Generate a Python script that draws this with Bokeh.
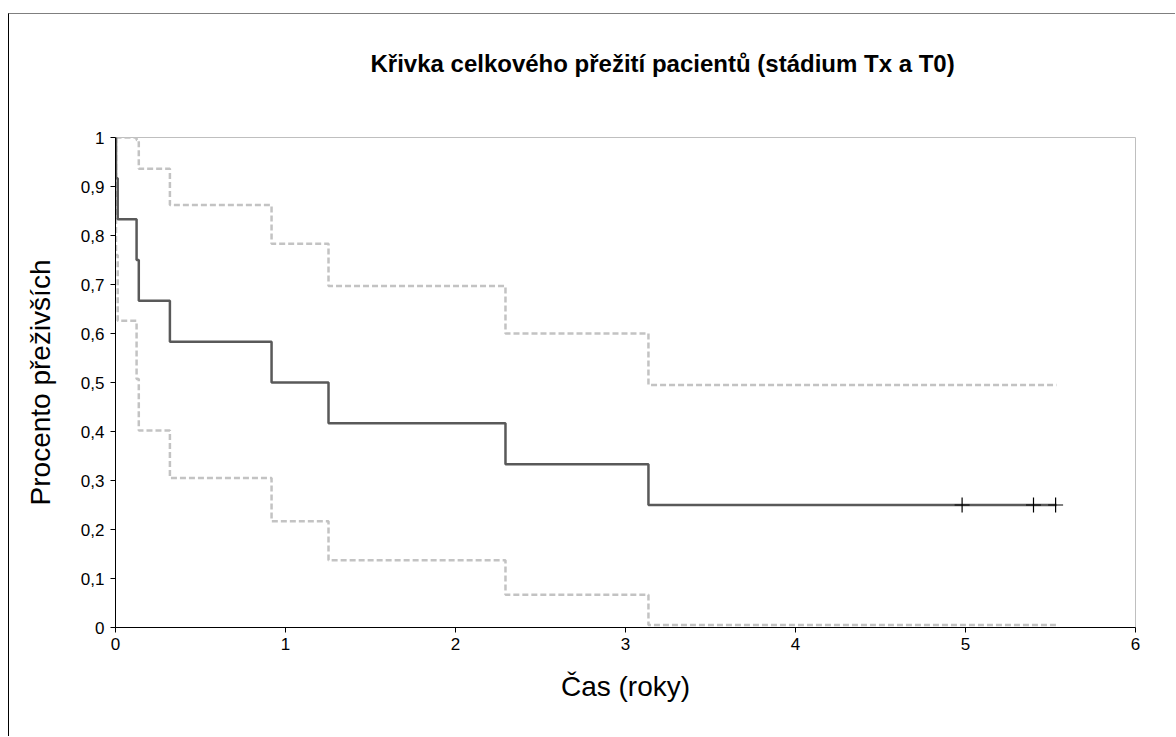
from bokeh.plotting import figure
from bokeh.models import FixedTicker, Range1d
from bokeh.embed import file_html
from bokeh.resources import INLINE

# Kaplan-Meier estimate of overall survival (time in years) with its 95% band
event_times = [0.0, 0.003, 0.013, 0.124, 0.137, 0.32, 0.918, 1.253, 2.294, 3.135]
survival = [1.0, 0.917, 0.833, 0.75, 0.667, 0.583, 0.5, 0.417, 0.333, 0.25]
upper_ci = [1.0, 1.0, 1.0, 0.995, 0.936, 0.862, 0.783, 0.697, 0.600, 0.495]
lower_ci = [1.0, 0.760, 0.626, 0.507, 0.402, 0.305, 0.217, 0.137, 0.067, 0.005]
follow_up_end = 5.535

# censored observations
censored_times = [4.98, 5.40, 5.53]
censored_surv = [0.25, 0.25, 0.25]

x_ticks = [0, 1, 2, 3, 4, 5, 6]
y_ticks = [0, 0.1, 0.2, 0.3, 0.4, 0.5, 0.6, 0.7, 0.8, 0.9, 1]
y_tick_labels = ["0", "0,1", "0,2", "0,3", "0,4", "0,5", "0,6", "0,7", "0,8", "0,9", "1"]

FONT = "Liberation Sans"

p = figure(
    width=1167, height=723,
    x_range=Range1d(0, 6), y_range=Range1d(0, 1),
    output_backend="svg", toolbar_location=None,
    min_border_left=106, min_border_right=41,
    min_border_top=123, min_border_bottom=110,
    background_fill_color="white", border_fill_color="white",
)
p.margin = (13, 0, 0, 8)
p.styles = {"border-left": "1px solid #000000", "border-top": "1px solid #7f7f7f"}

# the trailing blank line keeps the heading high above the plot area
p.title.text = "Křivka celkového přežití pacientů (stádium Tx a T0)\n"
p.title.text_font = FONT
p.title.text_font_size = "24px"
p.title.text_font_style = "bold"
p.title.text_color = "black"
p.title.align = "left"
p.title.vertical_align = "top"
p.title.offset = 255
p.title.standoff = 64

p.grid.visible = False
p.outline_line_color = "#bfbfbf"
p.outline_line_width = 1

# axes
for ax in (p.xaxis[0], p.yaxis[0]):
    ax.axis_line_color = "black"
    ax.axis_line_width = 1
    ax.major_tick_line_color = "black"
    ax.minor_tick_line_color = None
    ax.major_tick_in = 0
    ax.major_tick_out = 5
    ax.major_label_text_font = FONT
    ax.major_label_text_font_size = "17px"
    ax.major_label_text_color = "black"
    ax.axis_label_text_font = FONT
    ax.axis_label_text_font_style = "normal"
    ax.axis_label_text_font_size = "28px"
    ax.axis_label_text_color = "black"

p.xaxis.ticker = FixedTicker(ticks=x_ticks)
p.xaxis.major_label_standoff = 5
p.xaxis.axis_label = "Čas (roky)"
p.xaxis.axis_label_standoff = 18

p.yaxis.ticker = FixedTicker(ticks=y_ticks)
p.yaxis.major_label_overrides = {t: s for t, s in zip(y_ticks, y_tick_labels)}
p.yaxis.major_label_standoff = 6
p.yaxis.axis_label = "Procento přeživších"
p.yaxis.axis_label_standoff = 22


def stepped(times, values, end):
    return list(times) + [end], list(values) + [values[-1]]


ux, uy = stepped(event_times, upper_ci, follow_up_end)
lx, ly = stepped(event_times, lower_ci, follow_up_end)
sx, sy = stepped(event_times, survival, follow_up_end)

p.step(ux, uy, mode="after", line_color="#c3c3c3", line_width=2.5, line_dash="6 3")
p.step(lx, ly, mode="after", line_color="#c3c3c3", line_width=2.5, line_dash="6 3")
p.step(sx, sy, mode="after", line_color="#595959", line_width=2.5)
p.scatter(censored_times, censored_surv, marker="cross", size=15,
          line_color="black", line_width=1.2)

open("out.html", "w").write(file_html(p, INLINE))
